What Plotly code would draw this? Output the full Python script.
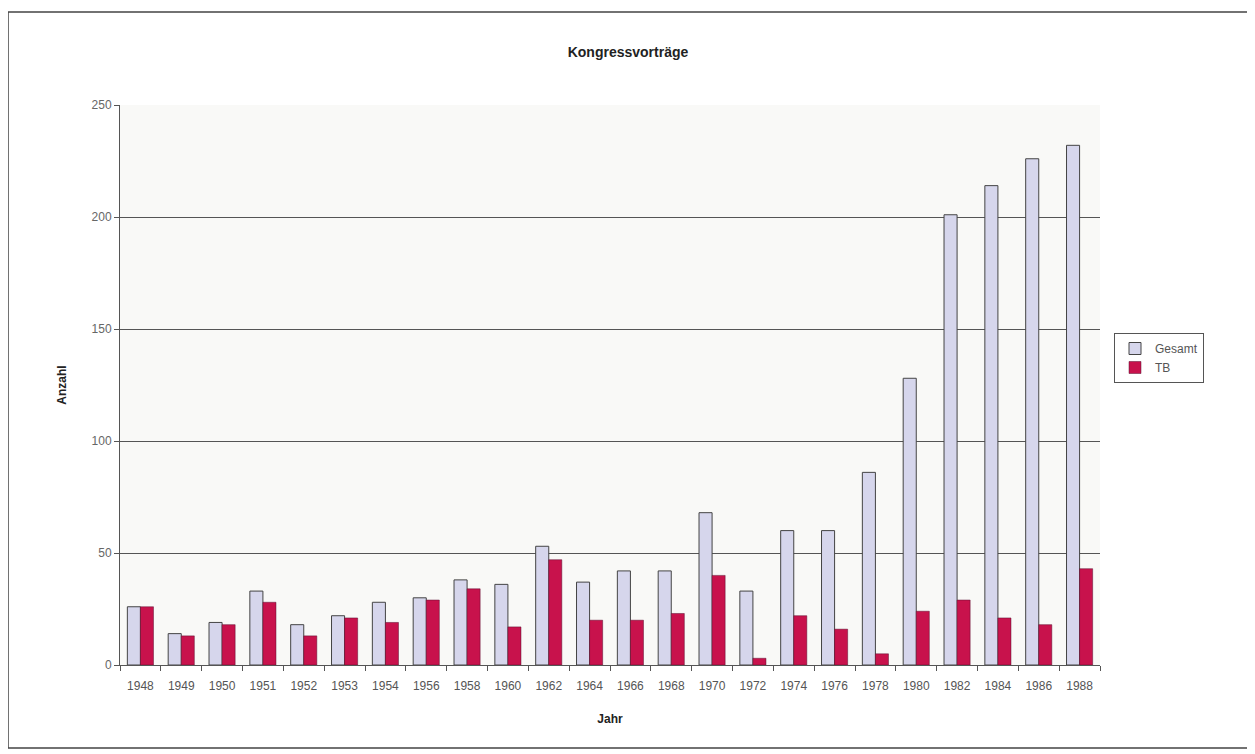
import plotly.graph_objects as go

years = ["1948", "1949", "1950", "1951", "1952", "1953", "1954", "1956", "1958", "1960",
         "1962", "1964", "1966", "1968", "1970", "1972", "1974", "1976", "1978", "1980",
         "1982", "1984", "1986", "1988"]
gesamt = [26, 14, 19, 33, 18, 22, 28, 30, 38, 36,
          53, 37, 42, 42, 68, 33, 60, 60, 86, 128,
          201, 214, 226, 232]
tb = [26, 13, 18, 28, 13, 21, 19, 29, 34, 17,
      47, 20, 20, 23, 40, 3, 22, 16, 5, 24,
      29, 21, 18, 43]

OFF = 8  # page body margin
W, H = 1255 - OFF, 754 - OFF
L, T = 120 - OFF, 105 - OFF
R = W - (1100 - OFF)
B = H - (665 - OFF)
pw, ph = W - L - R, H - T - B

def px(x):
    return (x - OFF - L) / pw

def py(y):
    return (H - B - (y - OFF)) / ph

fig = go.Figure()
fig.add_trace(go.Bar(x=years, y=gesamt, name="Gesamt",
                     marker=dict(color="#d6d6ec", line=dict(color="#444444", width=1))))
fig.add_trace(go.Bar(x=years, y=tb, name="TB",
                     marker=dict(color="#c8124c", line=dict(color="#5a1030", width=0.5))))

fig.update_layout(
    width=W, height=H,
    margin=dict(l=L, r=R, t=T, b=B),
    paper_bgcolor="white",
    plot_bgcolor="#f9f9f7",
    font=dict(family="Liberation Sans, Arial, sans-serif", size=12, color="#333333"),
    title=dict(text="<b>Kongressvorträge</b>", x=(628 - OFF) / W, xanchor="center",
               y=1 - (52 - OFF) / H, yanchor="middle", font=dict(size=14, color="#222222")),
    barmode="group", bargap=0.36, bargroupgap=0.0,
    showlegend=True,
    legend=dict(x=px(1114), y=py(333), xanchor="left", yanchor="top",
                bordercolor="#555555", borderwidth=1, bgcolor="white",
                font=dict(size=12, color="#555555"), itemwidth=30,
                tracegroupgap=2),
    xaxis=dict(title=dict(text="<b>Jahr</b>", font=dict(size=12, color="#222222"), standoff=22),
               showline=True, linecolor="#555555", linewidth=1,
               ticks="outside", ticklen=5, tickcolor="#555555",
               tickson="boundaries", showgrid=False, ticklabelstandoff=10,
               tickfont=dict(size=12, color="#555555")),
    yaxis=dict(title=dict(text="<b>Anzahl</b>", font=dict(size=12, color="#222222"), standoff=22),
               range=[0, 250], dtick=50, showline=True, linecolor="#555555", linewidth=1,
               ticks="outside", ticklen=5, tickcolor="#555555",
               showgrid=True, gridcolor="#555555", gridwidth=1,
               zeroline=False,
               tickfont=dict(size=12, color="#666666")),
    shapes=[dict(type="rect", xref="paper", yref="paper",
                 x0=px(8), x1=px(1250), y0=py(748), y1=py(12),
                 line=dict(color="#444444", width=1.5), fillcolor="rgba(0,0,0,0)",
                 layer="below")],
)

fig.write_html("out.html")
